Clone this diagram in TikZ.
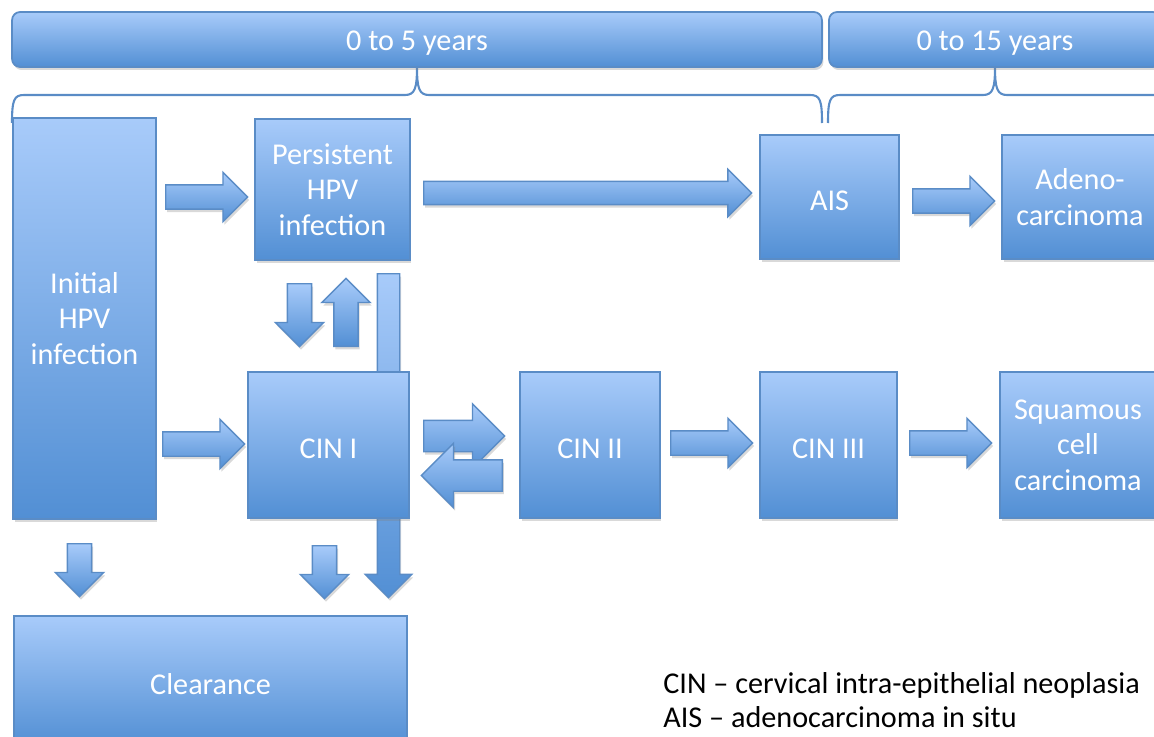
\documentclass[tikz,border=0pt]{standalone}
\usepackage{fontspec}
\setmainfont{Carlito}
\usetikzlibrary{positioning,shapes.arrows,shadows,calc}
\definecolor{boxtop}{RGB}{168,203,250}
\definecolor{boxbot}{RGB}{82,143,212}
\definecolor{boxline}{RGB}{90,140,198}

\begin{document}
\begin{tikzpicture}[x=0.02cm,y=-0.02cm,
                    box/.style={rectangle,draw=boxline,line width=1pt,top color=boxtop,bottom color=boxbot,
                                text=white,align=center,inner sep=0pt,font=\fontsize{17.2}{20.2}\selectfont,
                                execute at begin node={\rule{0pt}{15pt}},
                                drop shadow={opacity=.3,shadow xshift=.03cm,shadow yshift=-.06cm}},
                    bar/.style={box,rounded corners=.16cm},
                    arr/.style={single arrow,draw=boxline,line width=.8pt,top color=boxtop,bottom color=boxbot,
                                single arrow tip angle=90,single arrow head extend=.25cm,anchor=tail,
                                minimum width=0pt,minimum height=1.64cm,inner xsep=0pt,inner ysep=.23cm,
                                drop shadow={opacity=.3,shadow xshift=.03cm,shadow yshift=-.06cm}},
                    brace/.style={draw=boxline,line width=1.2pt}
                   ]
  \path[use as bounding box,clip] (0,0) rectangle (1154,737);

  % braces under the time bars
  \draw[brace] (12,123) .. controls (12,100) and (14,95) .. (24,95) -- (405,95)
               .. controls (415,95) and (417,88) .. (417,67)
               .. controls (417,88) and (419,95) .. (429,95) -- (810,95)
               .. controls (820,95) and (822,100) .. (822,123);
  \draw[brace] (828,123) .. controls (828,100) and (830,95) .. (840,95) -- (983,95)
               .. controls (993,95) and (995,88) .. (995,67)
               .. controls (995,88) and (997,95) .. (1007,95) -- (1170,95);

  \node[bar,minimum width=16.2cm,minimum height=1.1cm] (y5) at (417,39.5) {0 to 5 years};
  \node[bar,minimum width=6.64cm,minimum height=1.1cm] (y15) at (995,39.5) {0 to 15 years};

  % long arrow behind CIN I
  \node[arr,rotate=-90,minimum height=6.48cm,inner ysep=.21cm,single arrow head extend=.24cm] (c1clr) at (388.5,273) {};

  \node[box,minimum width=2.86cm,minimum height=8.02cm] (ini) at (84.5,318.5) {Initial\\HPV\\infection};
  \node[box,minimum width=3.1cm,minimum height=2.82cm] (per) at (332.5,189.5) {Persistent\\HPV\\infection};
  \node[box,minimum width=2.78cm,minimum height=2.48cm] (ais) at (829.5,197) {AIS};
  \node[box,minimum width=3.12cm,minimum height=2.48cm] (ade) at (1080,197) {Adeno-\\carcinoma};
  \node[box,minimum width=3.22cm,minimum height=2.92cm] (c1) at (328.5,445) {CIN I};
  \node[box,minimum width=2.8cm,minimum height=2.92cm] (c2) at (590,445) {CIN II};
  \node[box,minimum width=2.74cm,minimum height=2.92cm] (c3) at (828.5,445) {CIN III};
  \node[box,minimum width=3.12cm,minimum height=2.92cm] (scc) at (1078,445) {Squamous\\cell\\carcinoma};
  \node[box,minimum width=7.86cm,minimum height=2.6cm] (clr) at (210.5,681) {Clearance};

  % block arrows, placed by their tails
  \node[arr] (iniper) at (165,197) {};
  \node[arr,minimum height=6.56cm,inner ysep=.22cm,single arrow head extend=.24cm] (perais) at (423,193) {};
  \node[arr] (aisade) at (912,201) {};
  \node[arr] (inic1) at (162,444) {};
  \node[arr] (c2c3) at (670,443) {};
  \node[arr] (c3scc) at (909,443) {};
  \node[arr,minimum height=1.62cm,inner ysep=.3cm,single arrow head extend=.33cm] (c1c2) at (423,436) {};
  \node[arr,rotate=180,minimum height=1.62cm,inner ysep=.3cm,single arrow head extend=.33cm] (c2c1) at (503,475.5) {};
  \node[arr,rotate=-90,minimum height=1.26cm,single arrow head extend=.24cm] (perc1) at (299.5,283) {};
  \node[arr,rotate=90,minimum height=1.36cm,single arrow head extend=.24cm] (c1per) at (346,347) {};
  \node[arr,rotate=-90,minimum height=1.06cm,single arrow head extend=.24cm] (iniclr) at (79.5,543) {};
  \node[arr,rotate=-90,minimum height=1.06cm,single arrow head extend=.24cm] (c1clr2) at (324.5,545) {};

  \node[anchor=west,align=left,inner sep=0pt,font=\fontsize{17.2}{19.3}\selectfont] (key) at (663,700)
       {CIN -- cervical intra-epithelial neoplasia\\AIS -- adenocarcinoma in situ};
\end{tikzpicture}
\end{document}
